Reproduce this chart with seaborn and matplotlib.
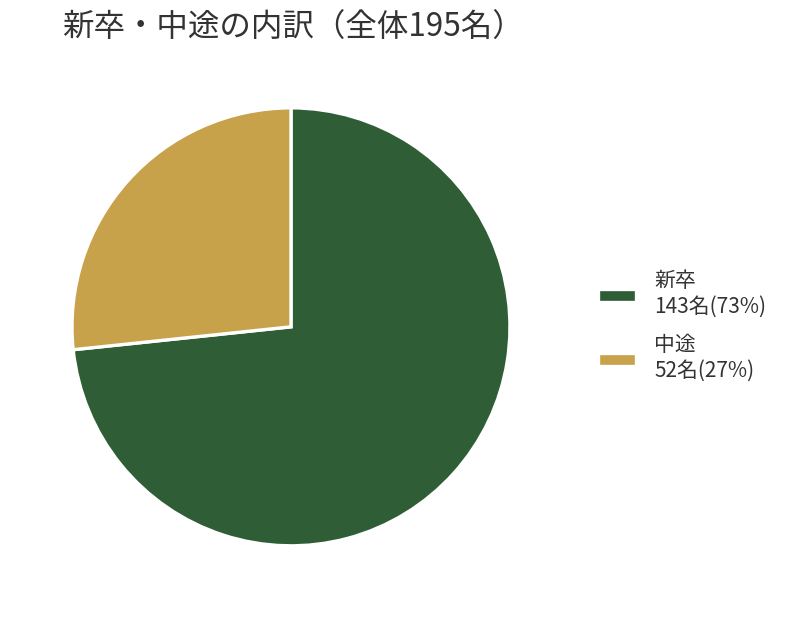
import matplotlib
matplotlib.use("Agg")
import matplotlib.pyplot as plt
import seaborn as sns

# Data
categories = ["新卒", "中途"]
counts = [143, 52]
total = sum(counts)
colors = ["#2f5e36", "#c8a24b"]

sns.set_theme(style="white")
plt.rcParams['font.family'] = ['Noto Sans CJK JP', 'DejaVu Sans']

fig = plt.figure(figsize=(7.92, 6.19), dpi=100)
ax = fig.add_axes([0.0909, 0.118, 0.553, 0.708])

wedges, _ = ax.pie(
    counts,
    colors=colors,
    startangle=90,
    counterclock=False,
    wedgeprops=dict(edgecolor="white", linewidth=2.4),
)
ax.set_xlim(-1, 1)
ax.set_ylim(-1, 1)
ax.set_aspect("equal")

labels = [f"{c}\n{n}名({round(n / total * 100)}%)" for c, n in zip(categories, counts)]
fig.legend(
    wedges, labels,
    loc="center left",
    bbox_to_anchor=(598 / 792, (619 - 326) / 619),
    frameon=False,
    fontsize=15,
    handlelength=1.8,
    handleheight=0.58,
    handletextpad=0.9,
    labelspacing=0.8,
    borderpad=0,
    borderaxespad=0,
    labelcolor="#333333",
)

fig.text(62 / 792, 1 - 28 / 619, "新卒・中途の内訳（全体195名）",
         fontsize=22.7, color="#333333", ha="left", va="center")

fig.savefig("out.png", dpi=100)
